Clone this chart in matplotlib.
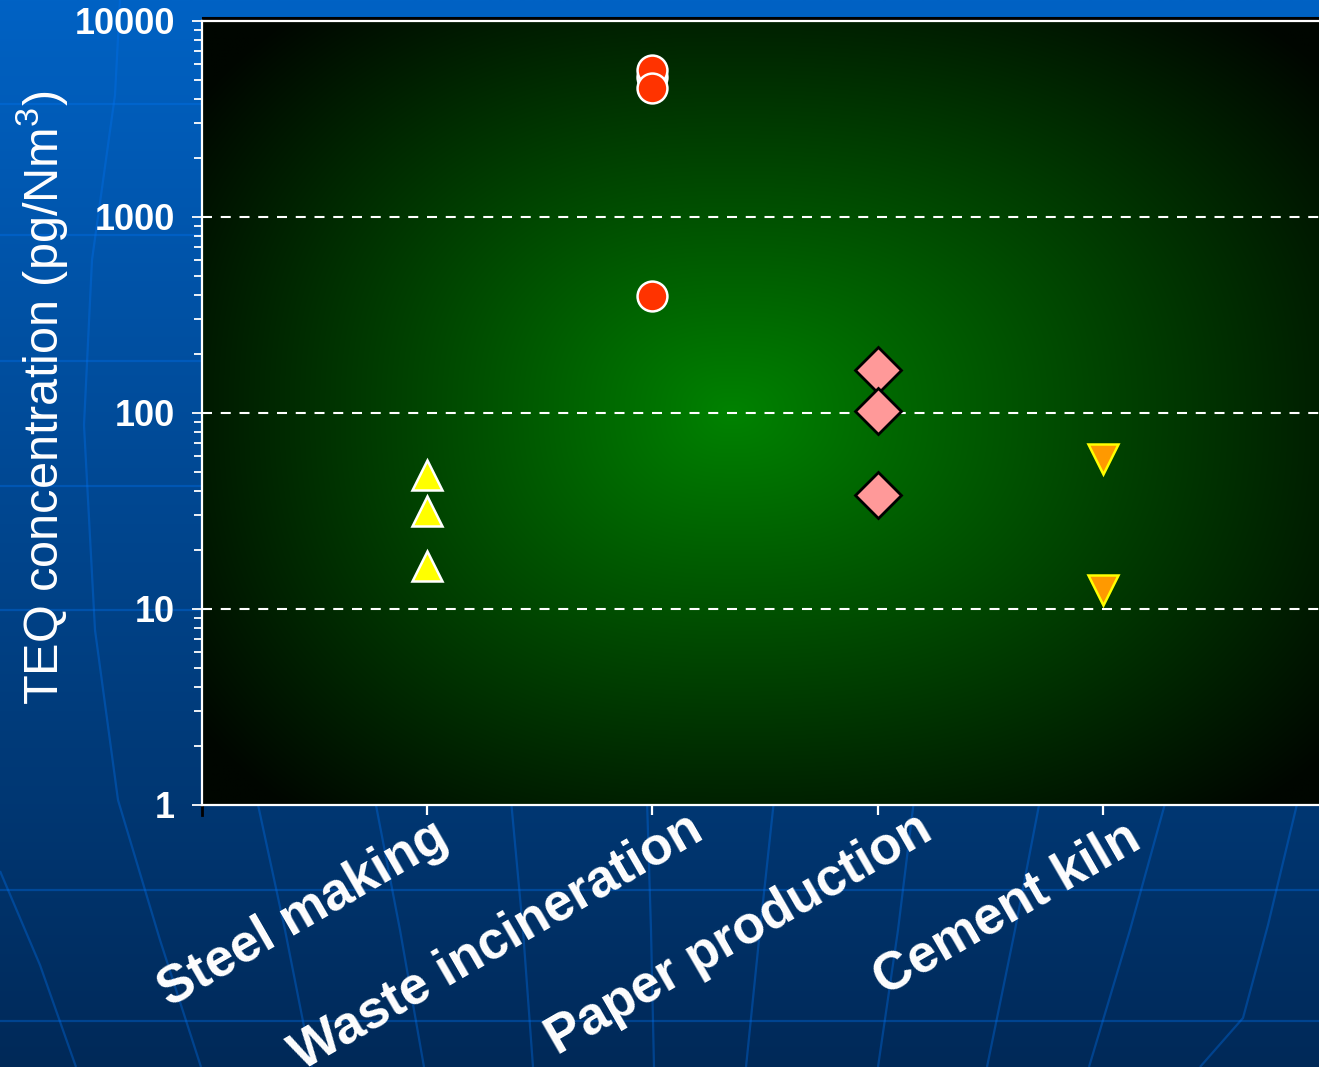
import numpy as np
import matplotlib
matplotlib.use("Agg")
import matplotlib.pyplot as plt
from matplotlib.lines import Line2D
from matplotlib.ticker import FixedLocator, LogLocator, NullFormatter
import matplotlib.transforms as mtransforms

plt.rcParams['font.family'] = ['Liberation Sans', 'DejaVu Sans']
plt.rcParams['mathtext.default'] = 'regular'

# ---------------- data ----------------
categories = ["Steel making", "Waste incineration", "Paper production", "Cement kiln"]
steel_making = [48, 31.5, 16.5]
waste_incineration = [5200, 5600, 4550, 395]
paper_production = [165, 102, 38]
cement_kiln = [58, 12.5]
y_ticks = [1, 10, 100, 1000, 10000]
y_tick_labels = ["1", "10", "100", "1000", "10000"]
grid_levels = [10, 100, 1000]

W, H = 1319, 1067
fig = plt.figure(figsize=(W / 100, H / 100), dpi=100)

# ---------------- blue slide background with globe lines ----------------
bg = fig.add_axes([0, 0, 1, 1], zorder=0)
bg.set_axis_off()
t = np.linspace(0, 1, 400)[:, None, None]
top_c = np.array([0x00, 0x62, 0xC4]) / 255
bot_c = np.array([0x00, 0x29, 0x58]) / 255
img = top_c[None, None, :] * (1 - t) + bot_c[None, None, :] * t
img = np.repeat(img, 2, axis=1)
bg.imshow(img, extent=[0, W, H, 0], aspect='auto', interpolation='bilinear')
line_kw = dict(color=(0, 0.45, 0.95), alpha=0.35, lw=1.6, solid_capstyle='butt')
for yy in [104, 235, 361, 486, 610, 890, 1021]:
    bg.plot([0, W], [yy, yy], **line_kw)
meridians = [
    [(120, 0), (115, 95), (92, 260), (84, 425), (95, 630), (118, 800), (160, 940), (201, 1067)],
    [(0, 871), (40, 965), (76, 1067)],
    [(257, 800), (285, 930), (312, 1067)],
    [(375, 800), (400, 930), (424, 1067)],
    [(511, 800), (523, 930), (533, 1067)],
    [(647, 800), (651, 930), (654, 1067)],
    [(774, 800), (760, 930), (746, 1067)],
    [(914, 800), (898, 930), (878, 1067)],
    [(1040, 800), (1015, 930), (987, 1067)],
    [(1166, 800), (1130, 930), (1089, 1067)],
    [(1298, 800), (1268, 925), (1243, 1018), (1200, 1067)],
]
for m in meridians:
    xs, ys = zip(*m)
    bg.plot(xs, ys, **line_kw)
bg.set_xlim(0, W)
bg.set_ylim(H, 0)

# ---------------- plot area ----------------
left_px, right_px, top_px, bottom_px = 202, 1328, 21, 805
pos = [left_px / W, 1 - bottom_px / H, (right_px - left_px) / W, (bottom_px - top_px) / H]

# green radial glow
gax = fig.add_axes(pos, zorder=1)
gax.set_axis_off()
n = 500
u = np.linspace(0, 1, n)[None, :]
v = np.linspace(0, 1, n)[:, None]
cx, cy = 0.47, 0.50
rx = np.where(u < cx, 0.56, 0.66)
ry = 0.64
p = 2.4
d = ((np.abs(u - cx) / rx) ** p + (np.abs(v - cy) / ry) ** p) ** (1 / p)
d = np.clip(d, 0, 1)
g = (6 + 124 * (1 - d)) / 255
glow = np.zeros((n, n, 3))
glow[..., 1] = g
gax.imshow(glow, extent=[0, 1, 1, 0], aspect='auto', interpolation='bilinear')
gax.set_xlim(0, 1)
gax.set_ylim(1, 0)

ax = fig.add_axes(pos, zorder=2)
ax.patch.set_alpha(0)
ax.set_yscale('log')
ax.set_xlim(0, 5)
ax.set_ylim(1, 10000)

for lvl in grid_levels:
    ax.axhline(lvl, color='white', lw=1.5, ls=(0, (4.8, 4.2)), zorder=1)

ax.plot([1] * len(steel_making), steel_making, ls='none', marker='^', ms=21,
        mfc='#FFFF00', mec='white', mew=1.8, zorder=3)
ax.plot([2] * len(waste_incineration), waste_incineration, ls='none', marker='o', ms=21.5,
        mfc='#FF3300', mec='white', mew=1.8, zorder=3)
ax.plot([3] * len(paper_production), paper_production, ls='none', marker='D', ms=23,
        mfc='#FF9999', mec='black', mew=2.0, zorder=3)
ax.plot([4] * len(cement_kiln), cement_kiln, ls='none', marker='v', ms=21,
        mfc='#FF9900', mec='#FFFF00', mew=1.8, zorder=3)

# spines
for s in ['left', 'bottom', 'top']:
    ax.spines[s].set_color('white')
    ax.spines[s].set_linewidth(1.6)
ax.spines['right'].set_visible(False)
fig.add_artist(Line2D([203 / W, 1], [1 - 17.5 / H, 1 - 17.5 / H], color='black', lw=2.2))

# y axis
ax.yaxis.set_major_locator(FixedLocator(y_ticks))
ax.set_yticklabels(y_tick_labels, fontsize=26, fontweight='bold', color='white')
ax.yaxis.set_minor_locator(LogLocator(base=10, subs=np.arange(2, 10)))
ax.yaxis.set_minor_formatter(NullFormatter())
ax.tick_params(axis='y', which='major', direction='out', length=7.5, width=1.3,
               color='white', pad=12)
ax.tick_params(axis='y', which='minor', direction='out', length=6, width=1.3, color='white')

# x axis
ax.set_xticks(range(1, len(categories) + 1))
ax.set_xticklabels(categories, fontsize=38, fontweight='bold', color='white',
                   rotation=30, ha='right', va='top', rotation_mode='anchor')
ax.tick_params(axis='x', which='major', direction='out', length=7, width=1.6,
               color='white', pad=6)
ax.tick_params(axis='x', which='minor', bottom=False)
label_shift_px = [(4, 12), (34, 19), (38, 19), (21, 11)]
for lab, (dx, dy) in zip(ax.get_xticklabels(), label_shift_px):
    lab.set_transform(lab.get_transform() +
                      mtransforms.ScaledTranslation(dx / 100, dy / 100, fig.dpi_scale_trans))
ax.add_line(Line2D([0, 0], [0, -10 / (bottom_px - top_px)], transform=ax.transAxes,
                   color='black', lw=2, clip_on=False))

fig.text(42 / W, 1 - 398 / H, "TEQ concentration (pg/Nm$^{3}$)", rotation=90,
         ha='center', va='center', fontsize=35, color='white')

fig.savefig("out.png", dpi=100)
